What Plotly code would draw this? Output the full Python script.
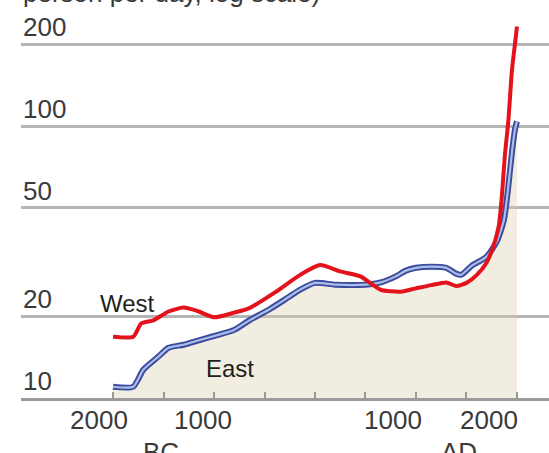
import numpy as np
import plotly.graph_objects as go

# Energy capture, thousand kilocalories per person per day (log scale)
west_years = [-2000, -1800, -1720, -1600, -1450, -1300, -1150, -1000, -800, -650,
              -400, -150, 50, 250, 450, 650, 850, 1000, 1150, 1300, 1400, 1500,
              1600, 1700, 1770, 1820, 1850, 1880, 1915, 1950, 1980, 2000]
west_values = [16.8, 16.8, 18.8, 19.3, 20.8, 21.5, 20.8, 19.8, 20.6, 21.4,
               24.4, 28.3, 30.8, 29.2, 28.0, 25.0, 24.6, 25.3, 26.0, 26.6, 25.8, 26.5,
               28.3, 31.5, 36.5, 43, 55, 78, 105, 160, 200, 232]

east_years = [-2000, -1800, -1700, -1550, -1450, -1300, -1150, -950, -800, -650,
              -450, -300, -150, 0, 200, 500, 650, 800, 900, 1000, 1150, 1300,
              1400, 1450, 1550, 1700, 1800, 1870, 1910, 1950, 1980, 2000]
east_values = [11.0, 11.0, 12.7, 14.2, 15.3, 15.7, 16.3, 17.1, 17.8, 19.3,
               21.2, 23.0, 25.0, 26.5, 26.1, 26.1, 26.6, 28.0, 29.4, 30.1, 30.4, 30.1,
               28.6, 28.4, 30.6, 33.1, 37.6, 45, 58, 80, 97, 104]

y_ticks = [10, 20, 50, 100, 200]
x_ticks = list(range(-2000, 2001, 500))
x_labels = {-2000: "2000", -1000: "1000", 1000: "1000", 2000: "2000"}
era_labels = {"BC": -1525, "AD": 1426}

# shaded band under the lower of the two curves
grid = np.array(sorted(set(west_years) | set(east_years)), dtype=float)
lower = np.minimum(np.interp(grid, west_years, west_values),
                   np.interp(grid, east_years, east_values))

smooth = dict(shape="spline", smoothing=0.6)

fig = go.Figure()
fig.add_trace(go.Scatter(x=grid, y=[10] * len(grid), mode="lines",
                         line=dict(width=0), hoverinfo="skip", showlegend=False))
fig.add_trace(go.Scatter(x=grid, y=lower, mode="lines", line=dict(width=0),
                         fill="tonexty", fillcolor="rgba(215,205,170,0.35)",
                         hoverinfo="skip", showlegend=False))
# East: dark outline with a light core
fig.add_trace(go.Scatter(x=east_years, y=east_values, mode="lines",
                         line=dict(color="#3d4a9e", width=6, **smooth), showlegend=False))
fig.add_trace(go.Scatter(x=east_years, y=east_values, mode="lines",
                         line=dict(color="#a9bfe9", width=2.2, **smooth), showlegend=False))
fig.add_trace(go.Scatter(x=west_years, y=west_values, mode="lines",
                         line=dict(color="#e3121b", width=4, **smooth), showlegend=False))

font = "Liberation Sans, Arial, sans-serif"
grey = "#3a3a3a"
annotations = [
    dict(text="person per day, log scale)", xref="paper", yref="paper", x=0, y=1,
         xanchor="left", yanchor="bottom", yshift=0, showarrow=False,
         font=dict(family=font, size=26, color=grey)),
    dict(text="West", x=-1861, y=np.log10(22.3), xref="x", yref="y", showarrow=False,
         font=dict(family=font, size=24, color="#1e1e1e")),
    dict(text="East", x=-842, y=np.log10(12.8), xref="x", yref="y", showarrow=False,
         font=dict(family=font, size=24, color="#1e1e1e")),
]
# value labels sit just above their gridlines, flush left
for v in y_ticks:
    annotations.append(dict(text=str(v), xref="paper", x=0, xanchor="left",
                            yref="y", y=np.log10(v), yanchor="bottom", yshift=0,
                            showarrow=False, font=dict(family=font, size=26, color=grey)))
shifts = {-2000: -14, -1000: -11, 1000: -23, 2000: -28}
for yr, txt in x_labels.items():
    annotations.append(dict(text=txt, x=yr, xref="x", yref="paper", y=0, yanchor="top",
                            yshift=-5, xshift=shifts[yr], showarrow=False,
                            font=dict(family=font, size=26, color=grey)))
for txt, yr in era_labels.items():
    annotations.append(dict(text=txt, x=yr, xref="x", yref="paper", y=0, yanchor="top",
                            yshift=-37, showarrow=False,
                            font=dict(family=font, size=26, color=grey)))

fig.update_layout(
    width=549, height=453,
    margin=dict(l=21, r=0, t=10, b=55),
    paper_bgcolor="white", plot_bgcolor="white",
    annotations=annotations,
    xaxis=dict(range=[-2911, 2317], tickvals=x_ticks, ticktext=[""] * len(x_ticks),
               ticks="inside", ticklen=6, tickwidth=2, tickcolor="#999999",
               showgrid=False, zeroline=False, showline=True, linecolor="#9a9a9a",
               linewidth=3),
    yaxis=dict(type="log", range=[1, 1 + 388 / 272], tickvals=y_ticks,
               showticklabels=False, showgrid=True, gridcolor="#b5b5b5",
               gridwidth=2.5, zeroline=False, showline=False, ticks=""),
)

fig.write_html("out.html")
